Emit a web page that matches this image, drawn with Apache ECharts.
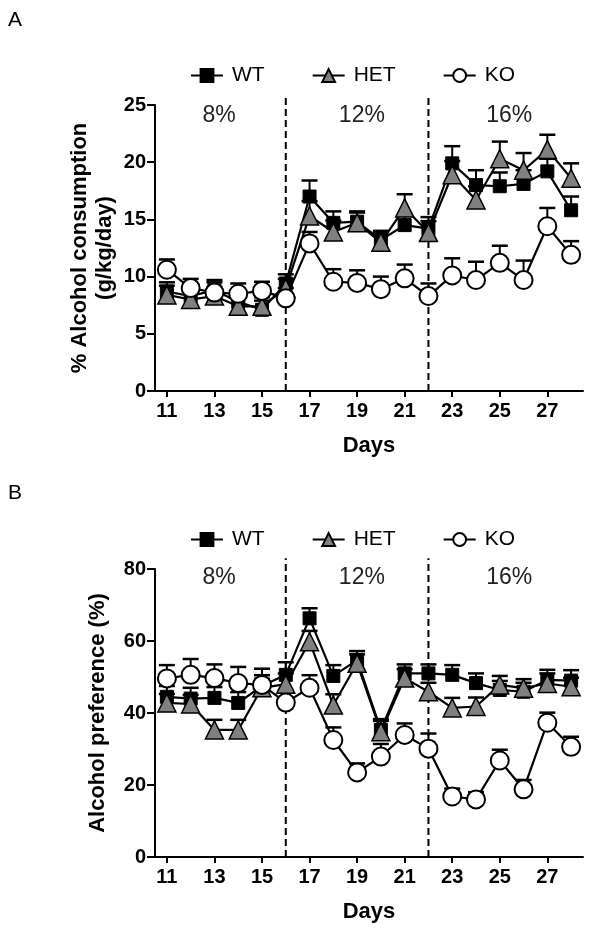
<!DOCTYPE html>
<html><head><meta charset="utf-8">
<script src="https://cdn.jsdelivr.net/npm/echarts@6/dist/echarts.min.js"></script>
<style>html,body{margin:0;padding:0;background:#fff}#c{width:596px;height:932px}</style>
</head><body><div id="c"></div>
<script>
const days = [11,12,13,14,15,16,17,18,19,20,21,22,23,24,25,26,27,28];
const dayTicks = [11,13,15,17,19,21,23,25,27];
const phaseLabels = ['8%','12%','16%'];
const phaseLabelDays = [13.2,19.2,25.4];
const phaseBreaks = [16,22];
const seriesNames = ['WT','HET','KO'];

// Panel A: % Alcohol consumption (g/kg/day)
const wtA  = [8.7,8.3,8.8,7.8,7.1,9.4,17.0,14.7,14.8,13.2,14.5,14.2,19.9,18.0,17.9,18.1,19.2,15.8];
const hetA = [8.4,8.0,8.3,7.4,7.4,9.0,15.3,13.9,14.7,13.0,16.0,13.85,18.9,16.7,20.3,19.3,21.1,18.6];
const koA  = [10.6,9.0,8.6,8.5,8.75,8.1,12.9,9.55,9.45,8.9,9.85,8.3,10.1,9.7,11.2,9.7,14.4,11.9];
const wtAErr  = [0.8,0.8,0.9,0.9,0.8,0.8,1.4,1.0,0.9,0.8,0.9,1.0,1.5,1.3,1.2,1.2,1.1,1.2];
const hetAErr = [0.8,0.8,0.8,0.9,0.8,0.8,1.3,1.0,0.9,0.9,1.2,1.0,1.2,1.2,1.5,1.5,1.3,1.3];
const koAErr  = [0.9,0.8,0.9,0.9,0.8,0.9,1.0,1.1,1.1,1.1,1.2,1.1,1.5,1.6,1.5,1.7,1.6,1.2];

// Panel B: Alcohol preference (%)
const wtB  = [44.5,44.0,44.2,42.8,47.5,50.6,66.3,50.3,54.7,35.3,51.0,51.0,50.6,48.3,46.4,45.9,49.2,49.0];
const hetB = [42.8,42.5,35.3,35.3,47.0,48.0,59.8,42.2,53.8,34.8,49.7,45.9,41.4,41.8,47.8,46.9,48.2,47.3];
const koB  = [49.6,50.6,49.7,48.3,47.8,42.9,47.0,32.5,23.5,27.9,33.9,30.1,16.8,16.0,26.8,18.8,37.3,30.6];
const wtBErr  = [3.0,3.0,3.0,3.0,3.0,3.5,2.8,3.0,2.5,3.0,2.5,2.5,2.7,2.7,2.5,2.5,2.8,2.9];
const hetBErr = [2.5,2.5,2.8,2.8,2.5,3.0,3.0,3.0,2.5,3.0,2.5,2.5,2.8,2.5,2.5,2.5,2.8,2.5];
const koBErr  = [3.7,4.4,3.8,4.5,4.5,3.5,3.5,3.5,2.5,3.5,3.2,4.2,2.2,2.0,3.0,2.6,2.8,2.8];

const yAMax = 25, yAInt = 5, yBMax = 80, yBInt = 20;

const FONT = 'Liberation Sans, Arial, sans-serif';
const styles = {
  WT:  {symbol:'rect', size:13, color:'#000', border:'#000', bw:1},
  HET: {symbol:'triangle', size:18, color:'#808080', border:'#000', bw:1.5},
  KO:  {symbol:'circle', size:18, color:'#fff', border:'#000', bw:2}
};

function lineSeries(name, vals, gi, z) {
  const s = styles[name];
  return {
    type:'line', name, xAxisIndex:gi, yAxisIndex:gi, z,
    data: days.map((d,i)=>[d, vals[i]]),
    symbol:s.symbol, symbolSize:s.size, showAllSymbol:true,
    lineStyle:{color:'#000', width:2.2},
    itemStyle:{color:s.color, borderColor:s.border, borderWidth:s.bw, opacity:1},
    emphasis:{disabled:true}, animation:false
  };
}
function errSeries(vals, errs, gi, z) {
  return {
    type:'custom', xAxisIndex:gi, yAxisIndex:gi, z, silent:true, animation:false,
    data: days.map((d,i)=>[d, vals[i], vals[i]+errs[i]]),
    renderItem:function(params, api){
      const p0 = api.coord([api.value(0), api.value(1)]);
      const p1 = api.coord([api.value(0), api.value(2)]);
      const hw = 8;
      return {type:'group', children:[
        {type:'line', shape:{x1:p0[0],y1:p0[1],x2:p1[0],y2:p1[1]}, style:{stroke:'#000', lineWidth:2}},
        {type:'line', shape:{x1:p1[0]-hw,y1:p1[1],x2:p1[0]+hw,y2:p1[1]}, style:{stroke:'#000', lineWidth:2.5}}
      ]};
    }
  };
}
function dashSeries(gi, ytop) {
  return {
    type:'custom', xAxisIndex:gi, yAxisIndex:gi, z:1, silent:true, animation:false, clip:false,
    data: phaseBreaks.map(b=>[b, 0, ytop]),
    renderItem:function(params, api){
      const p0 = api.coord([api.value(0), api.value(1)]);
      const p1 = api.coord([api.value(0), api.value(2)]);
      return {type:'line', shape:{x1:p0[0],y1:p0[1],x2:p1[0],y2:p1[1]}, style:{stroke:'#000', lineWidth:2, lineDash:[7,4]}};
    }
  };
}
function labelSeries(gi, yv) {
  return {
    type:'custom', xAxisIndex:gi, yAxisIndex:gi, z:1, silent:true, animation:false, clip:false,
    data: phaseLabels.map((t,i)=>[phaseLabelDays[i], yv]),
    renderItem:function(params, api){
      const p = api.coord([api.value(0), api.value(1)]);
      return {type:'text', x:p[0], y:p[1], style:{text:phaseLabels[params.dataIndex], fontSize:23, fontFamily:FONT, fill:'#222', align:'center', verticalAlign:'middle'}};
    }
  };
}

const xAxisBase = (gi)=>({
  type:'value', gridIndex:gi, min:10.5, max:28.5,
  name:'Days', nameLocation:'middle', nameGap:44, nameMoveOverlap:false,
  nameTextStyle:{fontSize:22, fontWeight:'bold', fontFamily:FONT, color:'#000'},
  axisLine:{show:true, onZero:false, lineStyle:{color:'#000', width:2}},
  axisTick:{show:true, length:6, lineStyle:{color:'#000', width:2}, customValues:dayTicks},
  axisLabel:{fontSize:20, fontWeight:'bold', fontFamily:FONT, color:'#000', margin:10, customValues:dayTicks, formatter:v=>String(v)},
  splitLine:{show:false}
});
const yAxisBase = (gi, max, interval, name, gap)=>({
  type:'value', gridIndex:gi, min:0, max, interval,
  name, nameLocation:'middle', nameGap:gap, nameRotate:90, nameMoveOverlap:false,
  nameTextStyle:{fontSize:22, fontWeight:'bold', fontFamily:FONT, color:'#000', lineHeight:25},
  axisLine:{show:true, lineStyle:{color:'#000', width:2}},
  axisTick:{show:true, length:8, lineStyle:{color:'#000', width:2}},
  axisLabel:{fontSize:20, fontWeight:'bold', fontFamily:FONT, color:'#000', margin:9},
  splitLine:{show:false}
});

const legendBase = (top)=>({
  top, left:185, itemGap:47, itemWidth:32, itemHeight:16,
  textStyle:{fontSize:21, fontFamily:FONT, color:'#000', padding:[0,0,0,4]},
  data:seriesNames, selectedMode:false
});

const chart = echarts.init(document.getElementById('c'), null, {renderer:'canvas'});
chart.setOption({
  backgroundColor:'#fff',
  animation:false,
  graphic:[
    {type:'text', left:8, top:10, style:{text:'A', fontSize:21, fontFamily:FONT, fill:'#000'}},
    {type:'text', left:8, top:483, style:{text:'B', fontSize:21, fontFamily:FONT, fill:'#000'}}
  ],
  legend:[legendBase(60), legendBase(524)],
  grid:[
    {left:155, top:105, width:428, height:286, containLabel:false},
    {left:155, top:569, width:428, height:288, containLabel:false}
  ],
  xAxis:[xAxisBase(0), xAxisBase(1)],
  yAxis:[
    yAxisBase(0, yAMax, yAInt, '% Alcohol consumption\n(g/kg/day)', 38),
    yAxisBase(1, yBMax, yBInt, 'Alcohol preference (%)', 45)
  ],
  series:[
    dashSeries(0, 25.7),
    dashSeries(1, 83),
    labelSeries(0, 24.1),
    labelSeries(1, 77.5),
    errSeries(wtA, wtAErr, 0, 2), errSeries(hetA, hetAErr, 0, 2), errSeries(koA, koAErr, 0, 2),
    lineSeries('WT', wtA, 0, 3), lineSeries('HET', hetA, 0, 4), lineSeries('KO', koA, 0, 5),
    errSeries(wtB, wtBErr, 1, 2), errSeries(hetB, hetBErr, 1, 2), errSeries(koB, koBErr, 1, 2),
    lineSeries('WT', wtB, 1, 3), lineSeries('HET', hetB, 1, 4), lineSeries('KO', koB, 1, 5)
  ]
});
</script></body></html>
